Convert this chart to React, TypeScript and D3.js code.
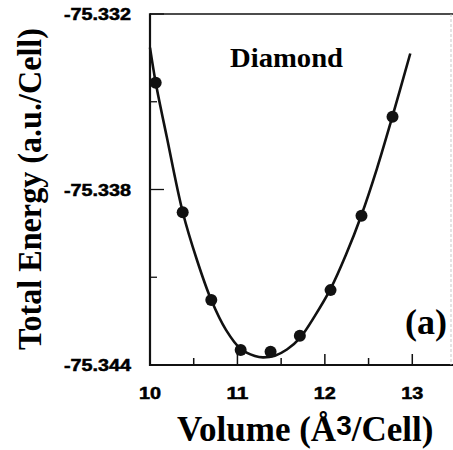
import * as d3 from "d3";

// measured points (Volume in Å^3/cell, total energy in a.u./cell)
const volumes = [10.065, 10.374, 10.701, 11.037, 11.379, 11.714, 12.065, 12.419, 12.774];
const energies = [-75.33435, -75.33878, -75.34178, -75.34349, -75.34355, -75.343, -75.34144, -75.3389, -75.33551];

// fitted curve, sampled off the figure
const fitVolumes = [10.0, 10.065, 10.191, 10.374, 10.537, 10.701, 10.869, 11.037, 11.2, 11.291, 11.429, 11.566, 11.714, 11.886, 12.065, 12.24, 12.419, 12.594, 12.774, 12.977];
const fitEnergies = [-75.33315, -75.33434, -75.33619, -75.33877, -75.34041, -75.34178, -75.3428, -75.34345, -75.34369, -75.34374, -75.34368, -75.34347, -75.34308, -75.34232, -75.3414, -75.34024, -75.33887, -75.3373, -75.33549, -75.33335];

const xMajor = [10, 11, 12, 13];
const xMinor = [10.5, 11.5, 12.5];
const yLabels = [-75.332, -75.338, -75.344];
const yMinor = [-75.335, -75.341];

const W = 453;
const H = 450;
const left = 150, top = 14, bottom = 365, right = 451;

export default function App() {
  const x = d3.scaleLinear().domain([10, 13.5]).range([left, 456]);
  const y = d3.scaleLinear().domain([-75.344, -75.332]).range([bottom, top]);

  const fit = fitVolumes.map((v, i) => [v, fitEnergies[i]] as [number, number]);
  const line = d3.line<[number, number]>()
    .x((d) => x(d[0]))
    .y((d) => y(d[1]))
    .curve(d3.curveCatmullRom.alpha(0.5));

  const sans = "'Liberation Sans', Arial, sans-serif";
  const serif = "'Liberation Serif', 'Times New Roman', serif";

  return (
    <svg width={W} height={H} style={{ position: "absolute", left: 0, top: 0, background: "#fff" }}>
      {/* frame */}
      <line x1={left} x2={W} y1={top} y2={top} stroke="#111" strokeWidth={1.6} />
      <line x1={left} x2={W} y1={bottom} y2={bottom} stroke="#111" strokeWidth={2.2} />
      <line x1={left} x2={left} y1={top - 0.8} y2={bottom + 1.1} stroke="#111" strokeWidth={2.2} />
      <line x1={right} x2={right} y1={top} y2={bottom} stroke="#bbb" strokeWidth={0.8} strokeDasharray="3 2" />

      {/* x ticks */}
      {xMajor.map((t) => (
        <g key={`xm${t}`}>
          <line x1={x(t)} x2={x(t)} y1={bottom} y2={bottom - 11} stroke="#111" strokeWidth={1.5} />
          <text x={x(t) - 11} y={398.5} fontFamily={sans} fontWeight="bold" fontSize={16} textLength={22} lengthAdjust="spacingAndGlyphs" stroke="#000" strokeWidth={0.5}>
            {t}
          </text>
        </g>
      ))}
      {xMinor.map((t) => (
        <line key={`xn${t}`} x1={x(t)} x2={x(t)} y1={bottom} y2={bottom - 7} stroke="#111" strokeWidth={1.5} />
      ))}

      {/* y ticks */}
      {yLabels.map((t) => (
        <g key={`ym${t}`}>
          <line x1={left} x2={left + 14} y1={y(t)} y2={y(t)} stroke="#111" strokeWidth={1.3} />
          <text x={64} y={y(t) + 6} fontFamily={sans} fontWeight="bold" fontSize={16} textLength={67} lengthAdjust="spacingAndGlyphs" stroke="#000" strokeWidth={0.5}>
            {t.toFixed(3)}
          </text>
        </g>
      ))}
      {yMinor.map((t) => (
        <line key={`yn${t}`} x1={left} x2={left + 7} y1={y(t)} y2={y(t)} stroke="#111" strokeWidth={1.3} />
      ))}

      {/* fitted curve */}
      <path d={line(fit) ?? ""} fill="none" stroke="#111" strokeWidth={2.6} />

      {/* data points */}
      {volumes.map((v, i) => (
        <circle key={i} cx={x(v)} cy={y(energies[i])} r={6} fill="#111" />
      ))}

      {/* annotations */}
      <text x={230} y={67} fontFamily={serif} fontWeight="bold" fontSize={27} textLength={113} lengthAdjust="spacingAndGlyphs">
        Diamond
      </text>
      <text x={405} y={334} fontFamily={serif} fontWeight="bold" fontSize={35} textLength={42} lengthAdjust="spacingAndGlyphs">
        (a)
      </text>

      {/* axis titles */}
      <text x={177} y={441} fontFamily={serif} fontWeight="bold" fontSize={35}>
        Volume (Å
        <tspan fontFamily={sans} fontSize={28} dy={-6}>3</tspan>
        <tspan dy={6}>/Cell)</tspan>
      </text>
      <text
        transform={`translate(41, 189) rotate(-90)`}
        textAnchor="middle"
        fontFamily={serif}
        fontWeight="bold"
        fontSize={34}
        textLength={322}
        lengthAdjust="spacingAndGlyphs"
      >
        Total Energy (a.u./Cell)
      </text>
    </svg>
  );
}
